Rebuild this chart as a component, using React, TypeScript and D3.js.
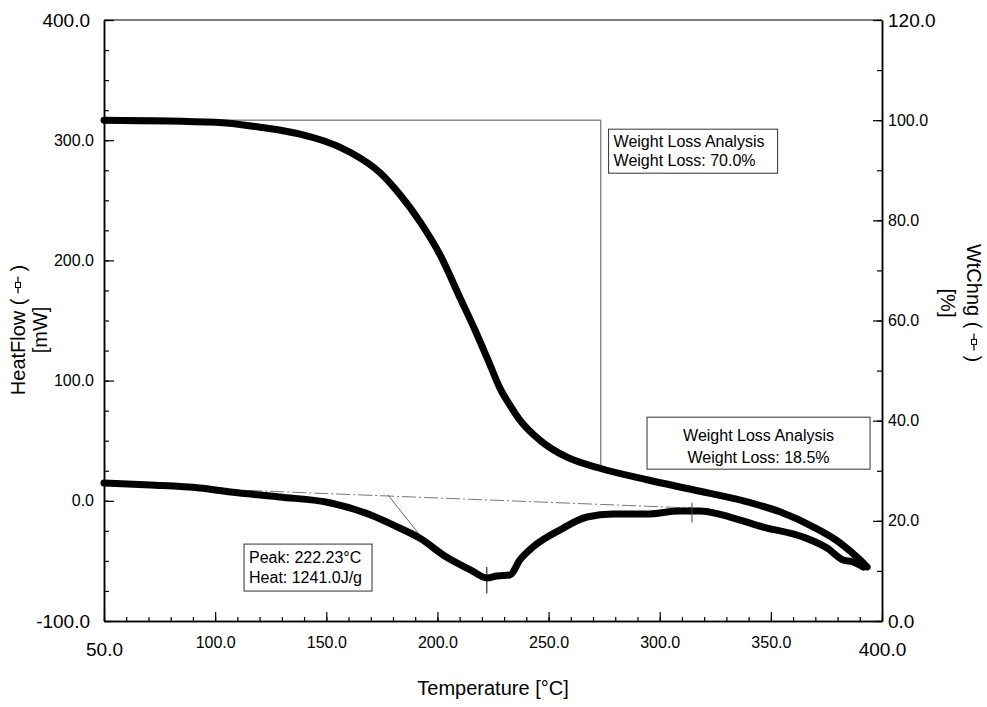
import React, { useEffect, useRef } from 'react';
import * as d3 from 'd3';

// axis ticks
const tempTicks = [50, 100, 150, 200, 250, 300, 350, 400];
const heatTicks = [-100, 0, 100, 200, 300, 400];
const wtTicks = [0, 20, 40, 60, 80, 100, 120];

// TGA curve: temperature (°C) and weight (%)
const wtTemp = [50, 100, 120.2, 138.2, 160.7, 174.2, 183.2, 192.2, 201.2, 210.2, 216.9, 223.7, 228.1, 232.6, 237.1, 246.1, 258.3, 273.1, 294.3, 315, 339.3, 354.1, 369, 381.1, 390.1, 393.3];
const wtValue = [100, 99.6, 98.6, 97.2, 93.6, 89.5, 85.1, 79.7, 73.1, 64.5, 58.1, 51.1, 46.5, 43.1, 40.1, 36.1, 32.7, 30.5, 28.2, 26.2, 23.8, 21.8, 18.8, 15.6, 12.2, 10.8];

// DSC curve: temperature (°C) and heat flow (mW)
const dscTemp = [50, 71, 93, 107, 129, 152, 170, 182, 192, 204, 215, 222.2, 226.8, 232.6, 237.1, 243, 255.1, 267.3, 279, 294.3, 309, 318, 331.6, 346.5, 364.5, 375.3, 382.5, 387, 391.5];
const dscValue = [14.8, 13.1, 10.6, 7.3, 3.2, -1.8, -11.8, -21.8, -31, -46.8, -57.6, -64.2, -62.5, -61.7, -49.2, -38.4, -24.3, -13.5, -11, -11, -8.5, -8.5, -13.5, -21.8, -30.1, -39.3, -49.2, -50.9, -55.1];

// analysis annotations
const peakTemp = 222.23;
const baselineTemp = [105, 314.5];
const baselineHeat = [9.3, -6.0];
const leaderTemp = [177.8, 193.1];
const leaderHeat = [4.8, -31];
const stepTemp = [50, 273.5];
const stepWt = [100, 30.5];

const box1Lines = ['Weight Loss Analysis', 'Weight Loss: 70.0%'];
const box2Lines = ['Weight Loss Analysis', 'Weight Loss: 18.5%'];
const box3Lines = ['Peak: 222.23°C', 'Heat: 1241.0J/g'];

const FONT = '"Liberation Sans", Arial, Helvetica, sans-serif';

const App: React.FC = () => {
  const svgRef = useRef<SVGSVGElement>(null);

  useEffect(() => {
    if (!svgRef.current) return;
    const width = 987;
    const height = 707;
    const left = 104, right = 882, top = 20, bottom = 621;

    const svg = d3.select(svgRef.current);
    svg.selectAll('*').remove();
    svg.attr('width', width).attr('height', height).attr('viewBox', `0 0 ${width} ${height}`);

    const x = d3.scaleLinear().domain([50, 400]).range([left, right]);
    const yHeat = d3.scaleLinear().domain([-100, 400]).range([bottom, top]);
    const yWt = d3.scaleLinear().domain([0, 120]).range([bottom, top]);

    svg.append('rect').attr('width', width).attr('height', height).attr('fill', '#fff');

    const styleAxis = (g: any) => {
      g.attr('font-family', FONT).attr('color', '#000');
      g.select('.domain').attr('stroke-width', 1.5);
      g.selectAll('.tick line').attr('stroke-width', 1.2);
    };

    // minor ticks
    svg.append('g').attr('transform', `translate(${left},0)`)
      .call(d3.axisLeft(yHeat).tickValues(d3.range(-100, 401, 25)).tickSize(-5).tickSizeOuter(0).tickFormat(() => ''))
      .call(styleAxis);
    svg.append('g').attr('transform', `translate(${right},0)`)
      .call(d3.axisRight(yWt).tickValues(d3.range(0, 121, 10)).tickSize(-5).tickSizeOuter(0).tickFormat(() => ''))
      .call(styleAxis);
    svg.append('g').attr('transform', `translate(0,${bottom})`)
      .call(d3.axisBottom(x).tickValues(d3.range(50, 401, 10)).tickSize(-4).tickSizeOuter(0).tickFormat(() => ''))
      .call(styleAxis);

    const fmt = (d: any) => (+d).toFixed(1);
    const isEnd = (arr: number[]) => (d: number) => d === arr[0] || d === arr[arr.length - 1];

    // major ticks + labels
    const gl = svg.append('g').attr('transform', `translate(${left},0)`)
      .call(d3.axisLeft(yHeat).tickValues(heatTicks).tickSize(-10).tickSizeOuter(0).tickPadding(10).tickFormat(fmt))
      .call(styleAxis);
    gl.selectAll('.tick text').attr('font-size', (d: any) => (isEnd(heatTicks)(d) ? 19 : 16))
      .attr('x', (d: any) => (isEnd(heatTicks)(d) ? -14 : -10));

    const gr = svg.append('g').attr('transform', `translate(${right},0)`)
      .call(d3.axisRight(yWt).tickValues(wtTicks).tickSize(-9).tickSizeOuter(0).tickPadding(6).tickFormat(fmt))
      .call(styleAxis);
    gr.selectAll('.tick text').attr('font-size', (d: any) => (isEnd(wtTicks)(d) ? 19 : 16));

    const gb = svg.append('g').attr('transform', `translate(0,${bottom})`)
      .call(d3.axisBottom(x).tickValues(tempTicks).tickSize(-9).tickSizeOuter(0).tickPadding(16).tickFormat(fmt))
      .call(styleAxis);
    gb.selectAll('.tick text').attr('font-size', (d: any) => (isEnd(tempTicks)(d) ? 19 : 16))
      .attr('y', (d: any) => (isEnd(tempTicks)(d) ? 22 : 16));

    // top frame
    svg.append('line').attr('x1', left).attr('x2', right).attr('y1', top).attr('y2', top)
      .attr('stroke', '#000').attr('stroke-width', 1.2);

    // axis titles
    svg.append('text').attr('x', (left + right) / 2).attr('y', 695)
      .attr('text-anchor', 'middle').attr('font-family', FONT).attr('font-size', 20)
      .text('Temperature [°C]');

    const title = (cx: number, cy: number, rot: number, name: string, unit: string, unitOffset: number) => {
      const g = svg.append('g').attr('transform', `translate(${cx},${cy}) rotate(${rot})`)
        .attr('font-family', FONT).attr('font-size', 20).attr('fill', '#000');
      const t1 = g.append('text').text(name + ' (');
      const t2 = g.append('text').text(')');
      const w1 = (t1.node() as SVGTextElement).getComputedTextLength();
      const w2 = (t2.node() as SVGTextElement).getComputedTextLength();
      const gap = 5, sym = 17;
      const total = w1 + gap * 2 + sym + w2;
      const x0 = -total / 2;
      t1.attr('x', x0);
      const sx = x0 + w1 + gap;
      t2.attr('x', sx + sym + gap);
      g.append('line').attr('x1', sx).attr('x2', sx + sym).attr('y1', -7).attr('y2', -7)
        .attr('stroke', '#000').attr('stroke-width', 1.2);
      g.append('rect').attr('x', sx + sym / 2 - 2.5).attr('y', -9.5).attr('width', 5).attr('height', 5)
        .attr('fill', '#fff').attr('stroke', '#000').attr('stroke-width', 1);
      g.append('text').attr('y', unitOffset).attr('text-anchor', 'middle').text(unit);
    };
    title(25, 330, -90, 'HeatFlow', '[mW]', 22);
    title(967, 303, 90, 'WtChng', '[%]', 26);

    // weight loss step line
    svg.append('path')
      .attr('d', `M${x(stepTemp[0])},${yWt(stepWt[0])}H${x(stepTemp[1])}V${yWt(stepWt[1])}`)
      .attr('fill', 'none').attr('stroke', '#555').attr('stroke-width', 1);

    // DSC baseline and leader
    svg.append('line')
      .attr('x1', x(baselineTemp[0])).attr('y1', yHeat(baselineHeat[0]))
      .attr('x2', x(baselineTemp[1])).attr('y2', yHeat(baselineHeat[1]))
      .attr('stroke', '#777').attr('stroke-width', 1).attr('stroke-dasharray', '14,3,2,3');
    svg.append('line')
      .attr('x1', x(leaderTemp[0])).attr('y1', yHeat(leaderHeat[0]))
      .attr('x2', x(leaderTemp[1])).attr('y2', yHeat(leaderHeat[1]))
      .attr('stroke', '#444').attr('stroke-width', 0.8);

    // curves
    const wtLine = d3.line<number>().x((d, i) => x(wtTemp[i])).y((d) => yWt(d)).curve(d3.curveMonotoneX);
    const dscLine = d3.line<number>().x((d, i) => x(dscTemp[i])).y((d) => yHeat(d)).curve(d3.curveMonotoneX);
    [
      wtLine(wtValue),
      dscLine(dscValue),
    ].forEach((d) => {
      svg.append('path').attr('d', d as string).attr('fill', 'none').attr('stroke', '#000')
        .attr('stroke-width', 7).attr('stroke-linejoin', 'round').attr('stroke-linecap', 'round');
    });

    // marker ticks
    svg.append('line').attr('x1', x(peakTemp)).attr('x2', x(peakTemp))
      .attr('y1', yHeat(-55)).attr('y2', yHeat(-77)).attr('stroke', '#000').attr('stroke-width', 1);
    svg.append('line').attr('x1', x(baselineTemp[1])).attr('x2', x(baselineTemp[1]))
      .attr('y1', yHeat(-1.5)).attr('y2', yHeat(-18)).attr('stroke', '#444').attr('stroke-width', 1);

    // annotation boxes
    const box = (bx: number, by: number, w: number, h: number, lines: string[], center: boolean, base: number[]) => {
      svg.append('rect').attr('x', bx).attr('y', by).attr('width', w).attr('height', h)
        .attr('fill', '#fff').attr('stroke', '#333').attr('stroke-width', 1);
      lines.forEach((s, i) => {
        svg.append('text').attr('x', center ? bx + w / 2 : bx + 5).attr('y', by + base[i])
          .attr('text-anchor', center ? 'middle' : 'start')
          .attr('font-family', FONT).attr('font-size', 16).attr('fill', '#000').text(s);
      });
    };
    box(x(277), yWt(98.2), 169, 44, box1Lines, false, [18, 37]);
    box(x(294.3), yWt(40.7), 223, 52, box2Lines, true, [24, 46]);
    box(x(113), yHeat(-36), 128, 47, box3Lines, false, [19, 39]);
  }, []);

  return <svg ref={svgRef} style={{ position: 'absolute', left: 0, top: 0, display: 'block' }} />;
};

export default App;
